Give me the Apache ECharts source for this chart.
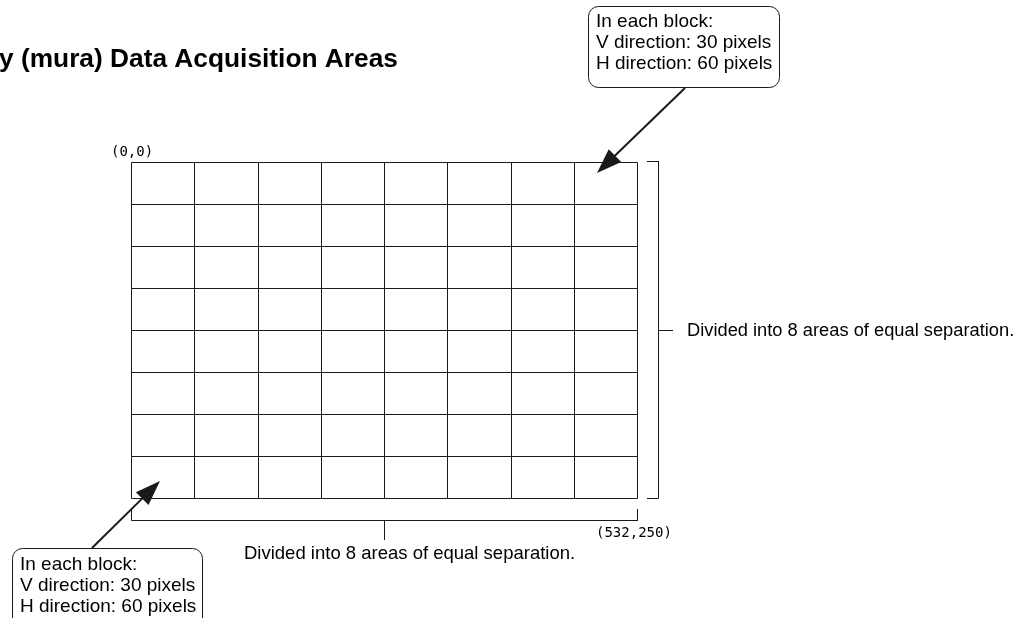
<!DOCTYPE html>
<html>
<head>
<meta charset="utf-8">
<script src="https://cdn.jsdelivr.net/npm/echarts@6/dist/echarts.min.js"></script>
<style>
html,body{margin:0;padding:0;background:#fff;}
#c{width:1027px;height:618px;}
</style>
</head>
<body>
<div id="c"></div>
<script>
// ---- data ----
var titleText = 'y (mura) Data Acquisition Areas';
var hBlocks = [0, 1, 2, 3, 4, 5, 6, 7];   // horizontal block indices (8 equal areas)
var vBlocks = [0, 1, 2, 3, 4, 5, 6, 7];   // vertical block indices (8 equal areas)
var cornerLabels = ['(0,0)', '(532,250)'];
var calloutLines = ['In each block:', 'V direction: 30 pixels', 'H direction: 60 pixels'];
var divisionLabel = 'Divided into 8 areas of equal separation.';

var cells = [];
vBlocks.forEach(function (r) { hBlocks.forEach(function (c) { cells.push([c, r]); }); });

var G = { left: 131, top: 162, width: 506, height: 336 };
var gR = G.left + G.width, gB = G.top + G.height;
var ink = '#1a1a1a';
var font = '"Liberation Sans", Arial, Helvetica, sans-serif';

function arrow(x1, y1, x2, y2) {
  var dx = x2 - x1, dy = y2 - y1, L = Math.sqrt(dx * dx + dy * dy);
  var ux = dx / L, uy = dy / L, hl = 25, hw = 9;
  var bx = x2 - ux * hl, by = y2 - uy * hl;
  return [
    { type: 'line', shape: { x1: x1, y1: y1, x2: bx + ux * 2, y2: by + uy * 2 }, style: { stroke: ink, lineWidth: 2 } },
    { type: 'polygon', shape: { points: [[x2, y2], [bx - uy * hw, by + ux * hw], [bx + uy * hw, by - ux * hw]] }, style: { fill: ink } }
  ];
}
function callout(x, y, w, h, dy) {
  var els = [{ type: 'rect', shape: { x: x + 0.5, y: y + 0.5, width: w, height: h, r: 10 }, style: { fill: '#fff', stroke: ink, lineWidth: 1 } }];
  calloutLines.forEach(function (t, i) {
    els.push({ type: 'text', x: x + 8, y: y + dy + i * 21, style: { text: t, font: '19px ' + font, fill: '#000', textVerticalAlign: 'middle', verticalAlign: 'middle' } });
  });
  return els;
}
function seg(x1, y1, x2, y2) {
  return { type: 'line', shape: { x1: x1, y1: y1, x2: x2, y2: y2 }, style: { stroke: ink, lineWidth: 1 } };
}

var bx = 658, byb = 520;
var graphics = [
  { type: 'text', x: -1, y: 60, style: { text: titleText, font: 'bold 26.3px ' + font, fill: '#000', verticalAlign: 'middle', textVerticalAlign: 'middle' } },
  { type: 'text', x: 111, y: 152, style: { text: cornerLabels[0], font: '14px "DejaVu Sans Mono", monospace', fill: '#000', verticalAlign: 'middle', textVerticalAlign: 'middle' } },
  { type: 'text', x: 596, y: 533, style: { text: cornerLabels[1], font: '14px "DejaVu Sans Mono", monospace', fill: '#000', verticalAlign: 'middle', textVerticalAlign: 'middle' } },
  // right bracket
  seg(bx + 0.5, G.top - 1, bx + 0.5, gB + 0.5),
  seg(bx - 11, G.top - 0.5, bx + 0.5, G.top - 0.5),
  seg(bx - 11, gB + 0.5, bx + 0.5, gB + 0.5),
  seg(bx, G.top + G.height / 2 + 0.5, bx + 15, G.top + G.height / 2 + 0.5),
  { type: 'text', x: 687, y: 331, style: { text: divisionLabel, font: '18.3px ' + font, fill: '#000', verticalAlign: 'middle', textVerticalAlign: 'middle' } },
  // bottom bracket
  seg(G.left + 0.5, byb + 0.5, gR + 1, byb + 0.5),
  seg(G.left + 0.5, byb - 11, G.left + 0.5, byb + 0.5),
  seg(gR + 0.5, byb - 11, gR + 0.5, byb + 0.5),
  seg(G.left + G.width / 2 + 0.5, byb, G.left + G.width / 2 + 0.5, 540),
  { type: 'text', x: 244, y: 554, style: { text: divisionLabel, font: '18.5px ' + font, fill: '#000', verticalAlign: 'middle', textVerticalAlign: 'middle' } }
];
graphics = graphics.concat(callout(588, 6, 191, 81, 16), arrow(685, 88, 597, 173));
graphics = graphics.concat(arrow(92, 548, 160, 481), callout(12, 548, 190, 100, 17));

var chart = echarts.init(document.getElementById('c'), null, { renderer: 'canvas' });
chart.setOption({
  animation: false,
  backgroundColor: '#fff',
  grid: { left: G.left, top: G.top, width: G.width, height: G.height },
  xAxis: { type: 'value', min: 0, max: hBlocks.length, interval: 1, show: false },
  yAxis: { type: 'value', min: 0, max: vBlocks.length, interval: 1, inverse: true, show: false },
  series: [{
    type: 'custom',
    data: cells,
    renderItem: function (params, api) {
      var p0 = api.coord([api.value(0), api.value(1)]);
      var p1 = api.coord([api.value(0) + 1, api.value(1) + 1]);
      var x0 = Math.round(p0[0]) + 0.5, y0 = Math.round(p0[1]) + 0.5;
      var x1 = Math.round(p1[0]) + 0.5, y1 = Math.round(p1[1]) + 0.5;
      return { type: 'rect', shape: { x: x0, y: y0, width: x1 - x0, height: y1 - y0 }, style: { fill: 'none', stroke: ink, lineWidth: 1 } };
    }
  }],
  graphic: { elements: graphics }
});
</script>
</body>
</html>
